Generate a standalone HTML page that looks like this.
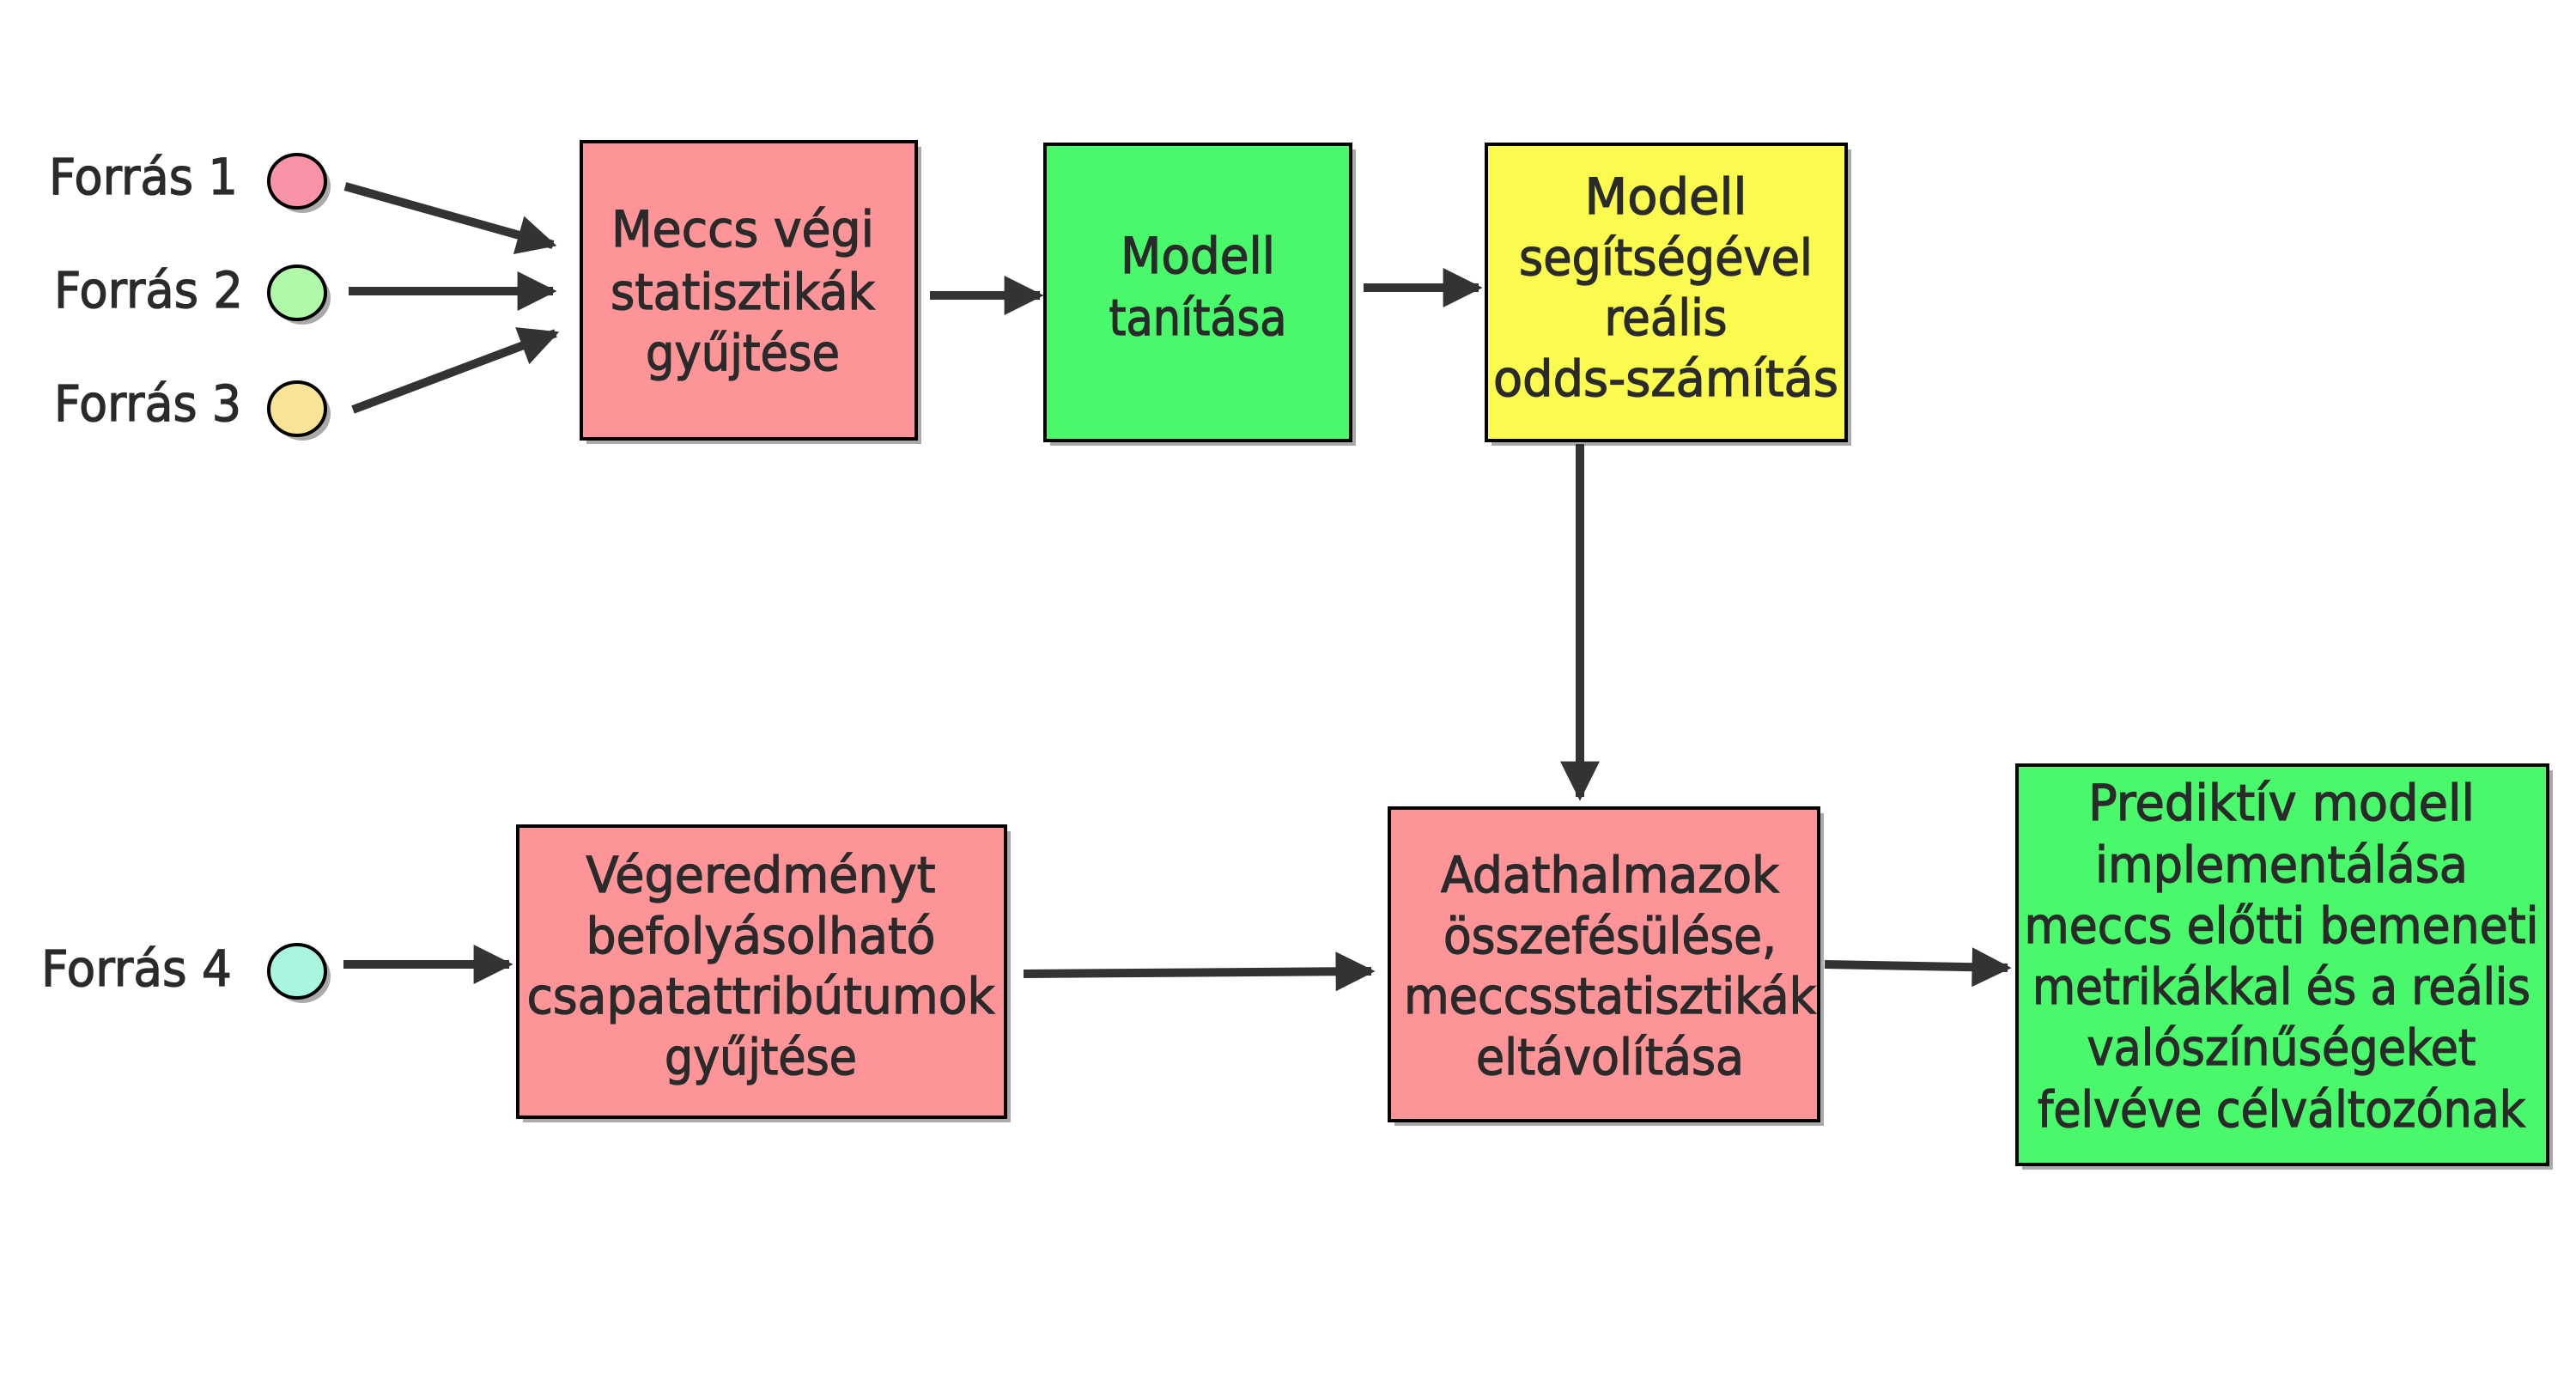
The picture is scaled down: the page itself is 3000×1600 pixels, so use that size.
<!DOCTYPE html>
<html><head><meta charset="utf-8"><style>html,body{margin:0;padding:0;background:#fff}svg{display:block}</style></head>
<body>
<svg width="3000" height="1600" viewBox="0 0 3000 1600" xmlns="http://www.w3.org/2000/svg">
<defs>
<marker id="ah" viewBox="0 0 10 10" refX="9" refY="5" markerWidth="5" markerHeight="4.6" orient="auto" markerUnits="strokeWidth"><path d="M0,0 L10,5 L0,10 z" fill="#333"/></marker>
</defs>
<g fill="#aaa">
<rect x="683" y="171" width="390" height="346"/>
<rect x="1223" y="174" width="356" height="345"/>
<rect x="1737" y="174" width="419" height="345"/>
<rect x="609" y="968" width="568" height="339"/>
<rect x="1624" y="947" width="500" height="364"/>
<rect x="2355" y="897" width="618" height="465"/>
<ellipse cx="352" cy="217" rx="33" ry="31"/>
<ellipse cx="352" cy="347" rx="33" ry="31"/>
<ellipse cx="352" cy="482" rx="33" ry="31"/>
<ellipse cx="352" cy="1137" rx="33" ry="31"/>
</g>
<g stroke="#000" stroke-width="4">
<rect x="677" y="165" width="390" height="346" fill="#fd9598"/>
<rect x="1217" y="168" width="356" height="345" fill="#4af86c"/>
<rect x="1731" y="168" width="419" height="345" fill="#fafa4f"/>
<rect x="603" y="962" width="568" height="339" fill="#fd9598"/>
<rect x="1618" y="941" width="500" height="364" fill="#fd9598"/>
<rect x="2349" y="891" width="618" height="465" fill="#4af86c"/>
<ellipse cx="346" cy="211" rx="33" ry="31" fill="#f993a8"/>
<ellipse cx="346" cy="341" rx="33" ry="31" fill="#b0f9a8"/>
<ellipse cx="346" cy="476" rx="33" ry="31" fill="#f9e396"/>
<ellipse cx="346" cy="1131" rx="33" ry="31" fill="#a8f5e0"/>
</g>
<g stroke="#333" stroke-width="10" fill="none" marker-end="url(#ah)">
<line x1="402" y1="217" x2="644" y2="285"/>
<line x1="406" y1="339" x2="644" y2="339"/>
<line x1="411" y1="477" x2="647" y2="388"/>
<line x1="1083" y1="344" x2="1211" y2="344"/>
<line x1="1588" y1="335" x2="1722" y2="335"/>
<line x1="1840" y1="517" x2="1840" y2="928"/>
<line x1="400" y1="1123" x2="593" y2="1123"/>
<line x1="1192" y1="1134" x2="1597" y2="1131"/>
<line x1="2125" y1="1123" x2="2338" y2="1127"/>
</g>
<g font-family="'DejaVu Sans','Liberation Sans',sans-serif" font-size="58" fill="#2a2a2a" stroke="#2a2a2a" stroke-width="1.3" text-anchor="middle">
<text x="167" y="226" textLength="220" lengthAdjust="spacingAndGlyphs">Forrás 1</text>
<text x="173" y="358" textLength="220" lengthAdjust="spacingAndGlyphs">Forrás 2</text>
<text x="172" y="490" textLength="218" lengthAdjust="spacingAndGlyphs">Forrás 3</text>
<text x="159" y="1148" textLength="222" lengthAdjust="spacingAndGlyphs">Forrás 4</text>

<text x="865" y="287" textLength="306" lengthAdjust="spacingAndGlyphs">Meccs végi</text>
<text x="865" y="360" textLength="308" lengthAdjust="spacingAndGlyphs">statisztikák</text>
<text x="865" y="431" textLength="226" lengthAdjust="spacingAndGlyphs">gyűjtése</text>

<text x="1395" y="318" textLength="180" lengthAdjust="spacingAndGlyphs">Modell</text>
<text x="1395" y="390" textLength="207" lengthAdjust="spacingAndGlyphs">tanítása</text>

<text x="1940" y="249" textLength="189" lengthAdjust="spacingAndGlyphs">Modell</text>
<text x="1940" y="320" textLength="342" lengthAdjust="spacingAndGlyphs">segítségével</text>
<text x="1940" y="390" textLength="143" lengthAdjust="spacingAndGlyphs">reális</text>
<text x="1940" y="461" textLength="402" lengthAdjust="spacingAndGlyphs">odds-számítás</text>

<text x="886" y="1039" textLength="407" lengthAdjust="spacingAndGlyphs">Végeredményt</text>
<text x="886" y="1110" textLength="407" lengthAdjust="spacingAndGlyphs">befolyásolható</text>
<text x="886" y="1180" textLength="545" lengthAdjust="spacingAndGlyphs">csapatattribútumok</text>
<text x="886" y="1251" textLength="224" lengthAdjust="spacingAndGlyphs">gyűjtése</text>

<text x="1875" y="1039" textLength="394" lengthAdjust="spacingAndGlyphs">Adathalmazok</text>
<text x="1875" y="1110" textLength="388" lengthAdjust="spacingAndGlyphs">összefésülése,</text>
<text x="1875" y="1180" textLength="480" lengthAdjust="spacingAndGlyphs">meccsstatisztikák</text>
<text x="1875" y="1251" textLength="312" lengthAdjust="spacingAndGlyphs">eltávolítása</text>

<text x="2657" y="955" textLength="450" lengthAdjust="spacingAndGlyphs">Prediktív modell</text>
<text x="2657" y="1027" textLength="434" lengthAdjust="spacingAndGlyphs">implementálása</text>
<text x="2657" y="1098" textLength="599" lengthAdjust="spacingAndGlyphs">meccs előtti bemeneti</text>
<text x="2657" y="1169" textLength="580" lengthAdjust="spacingAndGlyphs">metrikákkal és a reális</text>
<text x="2657" y="1240" textLength="453" lengthAdjust="spacingAndGlyphs">valószínűségeket</text>
<text x="2657" y="1312" textLength="568" lengthAdjust="spacingAndGlyphs">felvéve célváltozónak</text>
</g>
</svg>
</body></html>
